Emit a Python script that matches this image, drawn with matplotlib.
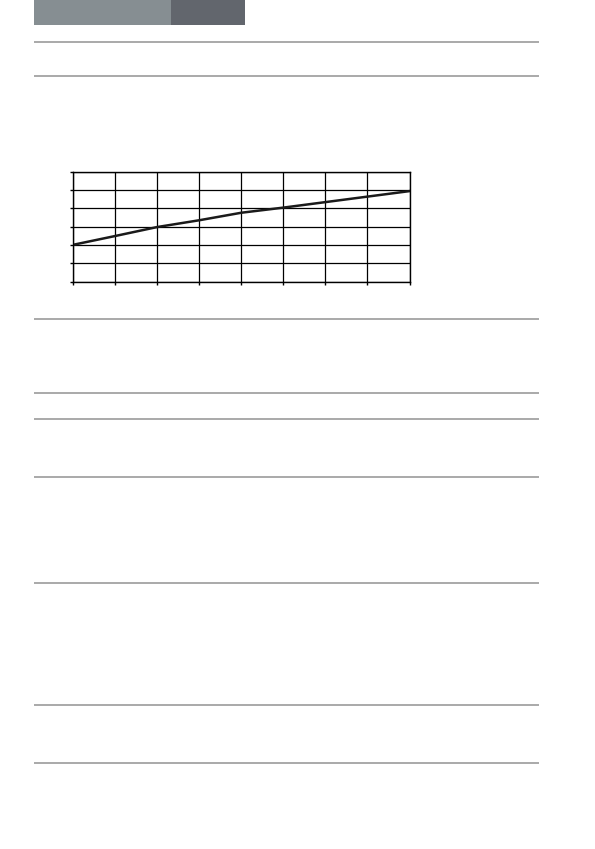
import matplotlib.pyplot as plt
from matplotlib.patches import Rectangle

# Curve values
x_vals = [0, 1, 2, 3, 4, 5, 6, 7, 8]
y_vals = [2.0, 2.48, 2.97, 3.34, 3.75, 4.03, 4.33, 4.63, 4.93]

# Page rules (pixel rows of the grey horizontal lines)
rule_rows = [42, 76, 318.5, 392.5, 418.5, 476.5, 582.5, 704.5, 762.5]

W, H = 595, 849
fig = plt.figure(figsize=(W / 100, H / 100), dpi=100)

# Background page layer in pixel coordinates
bg = fig.add_axes([0, 0, 1, 1])
bg.set_xlim(0, W)
bg.set_ylim(H, 0)
bg.axis('off')

# Header tabs
bg.add_patch(Rectangle((34, 0), 136.5, 24.5, color='#868e92', lw=0))
bg.add_patch(Rectangle((170.5, 0), 74.5, 24.5, color='#62666d', lw=0))

bg.hlines(rule_rows, 34, 539, colors='#a3a3a3', linewidth=1.3)

# Grid chart
left, right, top, bottom = 73, 409.5, 171.5, 281.5
ax = fig.add_axes([left / W, 1 - bottom / H, (right - left) / W, (bottom - top) / H])
ax.plot(x_vals, y_vals, color='#1a1a1a', linewidth=1.8)
ax.set_xlim(0, 8)
ax.set_ylim(0, 6)
ax.set_xticks(range(9))
ax.set_yticks(range(7))
ax.set_xticklabels([])
ax.set_yticklabels([])
ax.tick_params(length=2, width=1, direction='out', color='black')
ax.grid(True, color='black', linewidth=0.9)
for s in ax.spines.values():
    s.set_linewidth(1.0)
    s.set_color('black')

fig.savefig('out.png', dpi=100)
